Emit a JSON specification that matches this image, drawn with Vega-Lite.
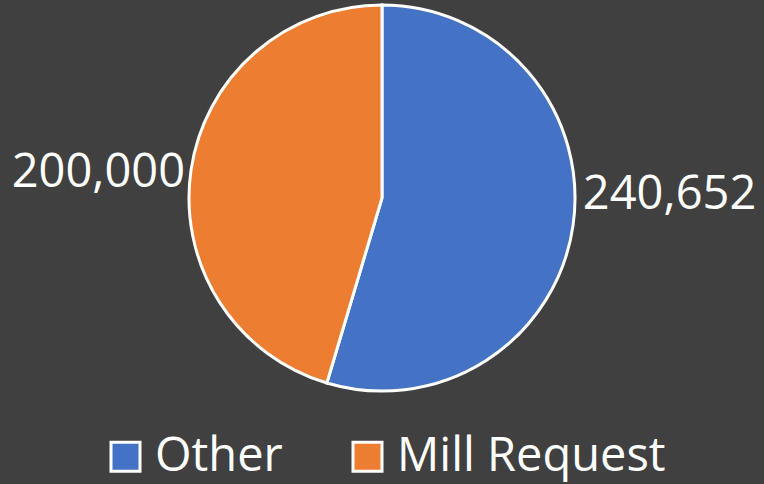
{
  "$schema": "https://vega.github.io/schema/vega-lite/v6.json",
  "width": 764,
  "height": 396,
  "padding": {"top": 0, "left": 0, "right": 0, "bottom": 88},
  "autosize": "none",
  "background": "#404040",
  "config": {"view": {"stroke": null}, "font": "Open Sans"},
  "data": {"values": [
    {"category": "Other", "value": 240652},
    {"category": "Mill Request", "value": 200000}
  ]},
  "encoding": {
    "theta": {"field": "value", "type": "quantitative", "stack": true},
    "order": {"field": "value", "type": "quantitative", "sort": "descending"}
  },
  "layer": [
    {
      "mark": {"type": "arc", "outerRadius": 193, "stroke": "white", "strokeWidth": 3},
      "encoding": {
        "color": {
          "field": "category", "type": "nominal",
          "scale": {"domain": ["Other", "Mill Request"], "range": ["#4472C4", "#ED7D31"]},
          "legend": {
            "title": null, "orient": "none", "direction": "horizontal",
            "legendX": 102, "legendY": 433,
            "symbolType": "square", "symbolSize": 841,
            "symbolStrokeColor": "white", "symbolStrokeWidth": 3, "symbolOpacity": 1,
            "labelFontSize": 47, "labelColor": "white", "labelFont": "Open Sans",
            "labelLimit": 400, "columnPadding": 61, "labelOffset": 6
          }
        }
      }
    },
    {
      "mark": {"type": "text", "radius": 203, "align": "left", "baseline": "middle", "dy": -32, "fontSize": 47, "color": "white", "font": "Open Sans"},
      "encoding": {
        "text": {"condition": {"test": "datum.category === 'Other'", "field": "value", "type": "quantitative", "format": ","}, "value": ""}
      }
    },
    {
      "mark": {"type": "text", "radius": 199, "align": "right", "baseline": "middle", "dy": 4, "fontSize": 47, "color": "white", "font": "Open Sans"},
      "encoding": {
        "text": {"condition": {"test": "datum.category === 'Mill Request'", "field": "value", "type": "quantitative", "format": ","}, "value": ""}
      }
    }
  ]
}
